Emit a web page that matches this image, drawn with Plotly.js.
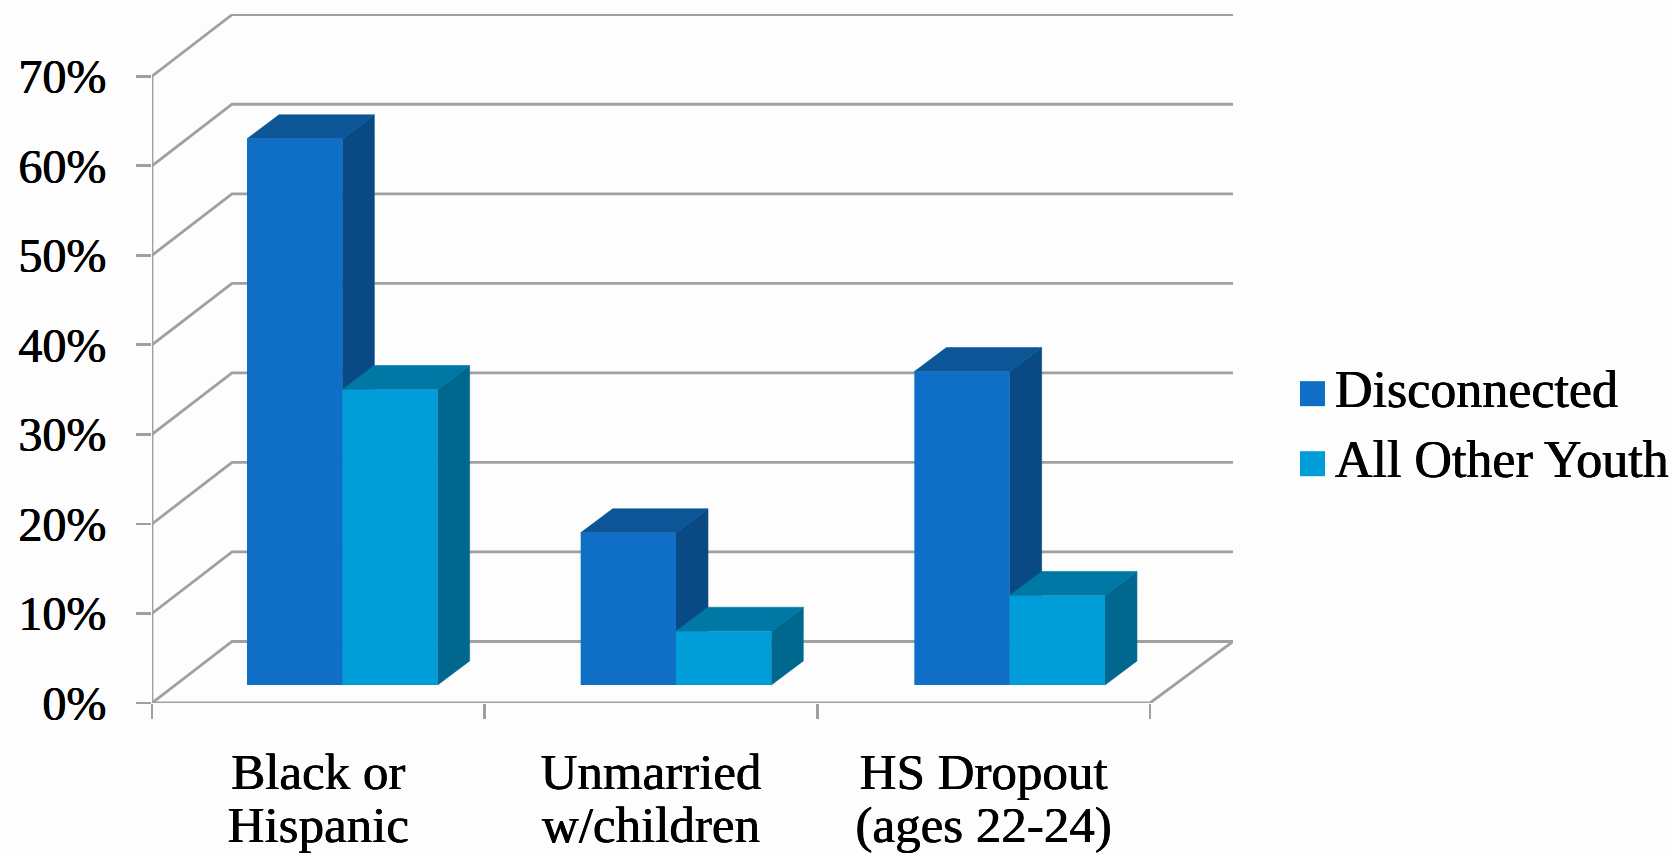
<!DOCTYPE html>
<html><head><meta charset="utf-8">
<script src="https://cdn.plot.ly/plotly-3.0.1.min.js"></script>
<style>html,body{margin:0;padding:0;background:#FDFDFD;overflow:hidden}</style>
</head><body><div id="chart" style="width:1673px;height:854px"></div>
<script>
const categoryLine1 = ['Black or', 'Unmarried', 'HS Dropout'];
const categoryLine2 = ['Hispanic', 'w/children', '(ages 22-24)'];
const disconnected = [61, 17, 35];
const allOtherYouth = [33, 6, 10];
const seriesNames = ['Disconnected', 'All Other Youth'];
const gridValues = [0, 10, 20, 30, 40, 50, 60, 70];
const gridLabels = ['0%', '10%', '20%', '30%', '40%', '50%', '60%', '70%'];

const colors = {
  grid: '#A0A0A0',
  front: ['#0F6FC6', '#009DD9'],
  top: ['#0C5597', '#0078A5'],
  side: ['#0A4A84', '#00688F']
};

// pseudo-3D geometry in axis units
const W = 1673, H = 854, L = 152, R = 1233, T = 14, B = 702.7;
const xMax = 3.2495, yMax = 76.95;
const wallDx = 0.2405, wallDy = 6.87;
const barW = 0.2865, barDx = 0.0962, barDy = 2.68;
const floorX = 0.0721, floorY = 2.01, barStep = 1.003;
const centers = categoryLine1.map((_, i) => i + 0.5);
const barCenters = categoryLine1.map((_, i) => i * barStep + 0.5);

const traces = [];
// walls and floor
const gridLine = {color:colors.grid, width:2.8};
gridValues.forEach(v => {
  traces.push({type:'scatter', mode:'lines', x:[0, wallDx, xMax], y:[v, v + wallDy, v + wallDy],
    line:gridLine, hoverinfo:'skip', showlegend:false, cliponaxis:false});
});
traces.push({type:'scatter', mode:'lines', x:[0, 0], y:[0, 70], line:gridLine, hoverinfo:'skip', showlegend:false, cliponaxis:false});
traces.push({type:'scatter', mode:'lines', x:[0, 3, 3 + wallDx + 0.0095], y:[0, 0, wallDy], line:gridLine, hoverinfo:'skip', showlegend:false, cliponaxis:false});
// axis that carries the first line of the category labels
traces.push({type:'scatter', mode:'markers', x:centers, y:[0,0,0], xaxis:'x2', yaxis:'y2', marker:{opacity:0}, hoverinfo:'skip', showlegend:false});

// side and top faces, behind the fronts
[disconnected, allOtherYouth].forEach((vals, s) => {
  vals.forEach((v, i) => {
    const x0 = barCenters[i] + floorX + (s - 1) * barW;
    const x1 = x0 + barW;
    const y0 = floorY, y1 = floorY + v;
    traces.push({type:'scatter', mode:'lines', xaxis:'x2', yaxis:'y2', fill:'toself', fillcolor:colors.side[s], line:{width:0.6, color:colors.side[s]},
      x:[x1, x1 + barDx, x1 + barDx, x1, x1], y:[y0, y0 + barDy, y1 + barDy, y1, y0], hoverinfo:'skip', showlegend:false});
    traces.push({type:'scatter', mode:'lines', xaxis:'x2', yaxis:'y2', fill:'toself', fillcolor:colors.top[s], line:{width:0.6, color:colors.top[s]},
      x:[x0, x1, x1 + barDx, x0 + barDx, x0], y:[y1, y1, y1 + barDy, y1 + barDy, y1], hoverinfo:'skip', showlegend:false});
  });
});
// front faces
[disconnected, allOtherYouth].forEach((vals, s) => {
  traces.push({type:'bar', name:seriesNames[s], x:barCenters, y:vals, base:floorY, width:barW,
    offset: floorX + (s - 1) * barW, xaxis:'x3', yaxis:'y3', marker:{color:colors.front[s], line:{width:0}}, showlegend:false});
});

const px = p => (p - L) / (R - L);
const py = p => (B - p) / (B - T);
const font = {family:'"Liberation Serif", serif', color:'#000', shadow:'0.4px 0 0 #000, -0.4px 0 0 #000'};
const legendRows = [393.5, 463.5];

const layout = {
  width:W, height:H, paper_bgcolor:'#FDFDFD', plot_bgcolor:'rgba(0,0,0,0)',
  margin:{l:L, r:W - R, t:T, b:H - B, pad:0}, showlegend:false, barmode:'overlay',
  xaxis:{type:'linear', range:[0, xMax], tickmode:'array', tickvals:[0, 1, 2, 3], showticklabels:false,
    ticks:'outside', ticklen:15, tickwidth:2.8, tickcolor:colors.grid, showgrid:false, zeroline:false, showline:false},
  yaxis:{type:'linear', range:[0, yMax], tickmode:'array', tickvals:gridValues, ticktext:gridLabels,
    ticks:'outside', ticklen:15, tickwidth:2.8, tickcolor:colors.grid, ticklabelstandoff:20,
    tickfont:{...font, size:48}, showgrid:false, zeroline:false, showline:false},
  xaxis2:{type:'linear', overlaying:'x', range:[0, xMax], tickmode:'array', tickvals:centers, ticktext:categoryLine1,
    ticks:'', ticklabelstandoff:34, tickfont:{...font, size:51}, showgrid:false, zeroline:false, showline:false},
  yaxis2:{overlaying:'y', range:[0, yMax], visible:false},
  xaxis3:{type:'linear', overlaying:'x', range:[0, xMax], tickmode:'array', tickvals:centers, ticktext:categoryLine2,
    ticks:'', ticklabelstandoff:87, tickfont:{...font, size:51}, showgrid:false, zeroline:false, showline:false},
  yaxis3:{overlaying:'y', range:[0, yMax], visible:false},
  shapes: legendRows.map((row, s) => ({type:'rect', xref:'paper', yref:'paper', layer:'above',
    x0:px(1300), x1:px(1325), y0:py(row + 12.5), y1:py(row - 12.5), fillcolor:colors.front[s], line:{width:0}})),
  annotations: legendRows.map((row, s) => ({xref:'paper', yref:'paper', x:px(1333), y:py(row - 4), xanchor:'left', yanchor:'middle',
    showarrow:false, text:seriesNames[s], font:{...font, size:52}}))
};
Plotly.newPlot('chart', traces, layout, {displayModeBar:false, staticPlot:true});
</script></body></html>
